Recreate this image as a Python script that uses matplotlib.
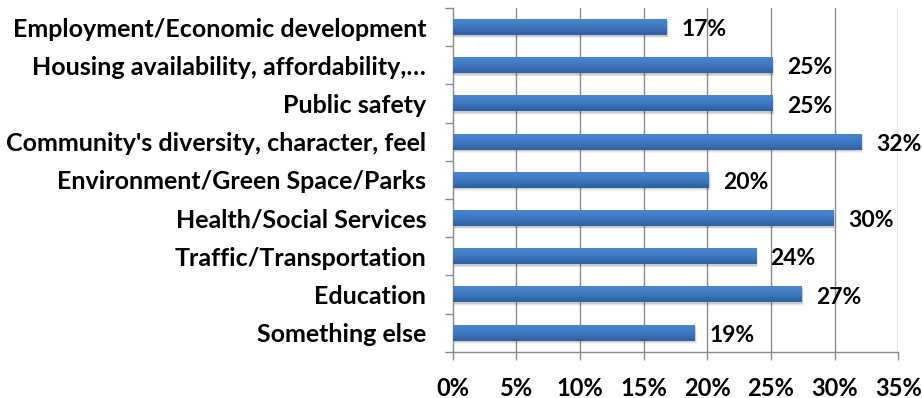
import matplotlib
matplotlib.use("Agg")
import matplotlib.pyplot as plt
import numpy as np
from matplotlib.colors import LinearSegmentedColormap

categories = [
    "Employment/Economic development",
    "Housing availability, affordability,\u2026",
    "Public safety",
    "Community's diversity, character, feel",
    "Environment/Green Space/Parks",
    "Health/Social Services",
    "Traffic/Transportation",
    "Education",
    "Something else",
]
values = [16.8, 25.1, 25.1, 32.1, 20.1, 29.9, 23.8, 27.4, 19.0]
xticks = [0, 5, 10, 15, 20, 25, 30, 35]

plt.rcParams['font.family'] = ['Lato', 'DejaVu Sans']
fig = plt.figure(figsize=(9.22, 3.98), dpi=100)
ax = fig.add_axes([0.491, 0.1163, 0.4834, 0.8636])

n = len(categories)
ypos = np.arange(n)
bar_h = 0.42
fs = 18
fs_tick = 17
fs_val = 16.5

grid_c = "#8c8c8c"
ax.set_xlim(0, 35)
ax.set_ylim(n - 0.5, -0.5)
for x in xticks[1:]:
    ax.axvline(x, color=grid_c, lw=1.0, zorder=0)

cmap = LinearSegmentedColormap.from_list("barfill", ["#4b87d2", "#3f79c2", "#2f5f9f"])
grad = np.linspace(0, 1, 64).reshape(-1, 1)

bars = ax.barh(ypos, values, height=bar_h, color="#3d75bd", zorder=2)
for b, v in zip(bars, values):
    y0 = b.get_y()
    # soft drop shadow
    for k, a in enumerate([0.10, 0.07, 0.04]):
        sh = plt.Rectangle((0, y0 + 0.04 + 0.02 * k), v + 0.08 + 0.05 * k, bar_h,
                           color="#000000", alpha=a, lw=0, zorder=1)
        ax.add_patch(sh)
    im = ax.imshow(grad, cmap=cmap, aspect="auto",
                   extent=(0, v, y0 + bar_h, y0), zorder=3,
                   interpolation="bilinear")
    im.set_clip_path(b)
    ax.text(v + 1.15, b.get_y() + bar_h / 2 + 0.07, f"{round(v):d}%",
            va="center", ha="left", fontsize=fs_val, fontweight="bold",
            color="#000000", zorder=4)

ax.set_xticks(xticks)
ax.set_xticklabels([f"{t}%" for t in xticks], fontsize=fs_tick, fontweight="bold")
ax.set_yticks(ypos)
ax.set_yticklabels(categories, fontsize=fs, fontweight="bold")
ax.set_yticks(np.arange(-0.5, n, 1.0), minor=True)
ax.tick_params(axis="y", which="major", length=0, pad=19)
ax.tick_params(axis="y", which="minor", length=6, color=grid_c, width=1.0)
ax.tick_params(axis="x", which="major", length=6, color=grid_c, width=1.0, pad=12)

for s in ["top", "right"]:
    ax.spines[s].set_visible(False)
for s in ["left", "bottom"]:
    ax.spines[s].set_color(grid_c)
    ax.spines[s].set_linewidth(1.0)

ax.set_xlim(0, 35)
ax.set_ylim(n - 0.5, -0.5)

fig.savefig("out.png", dpi=100)
